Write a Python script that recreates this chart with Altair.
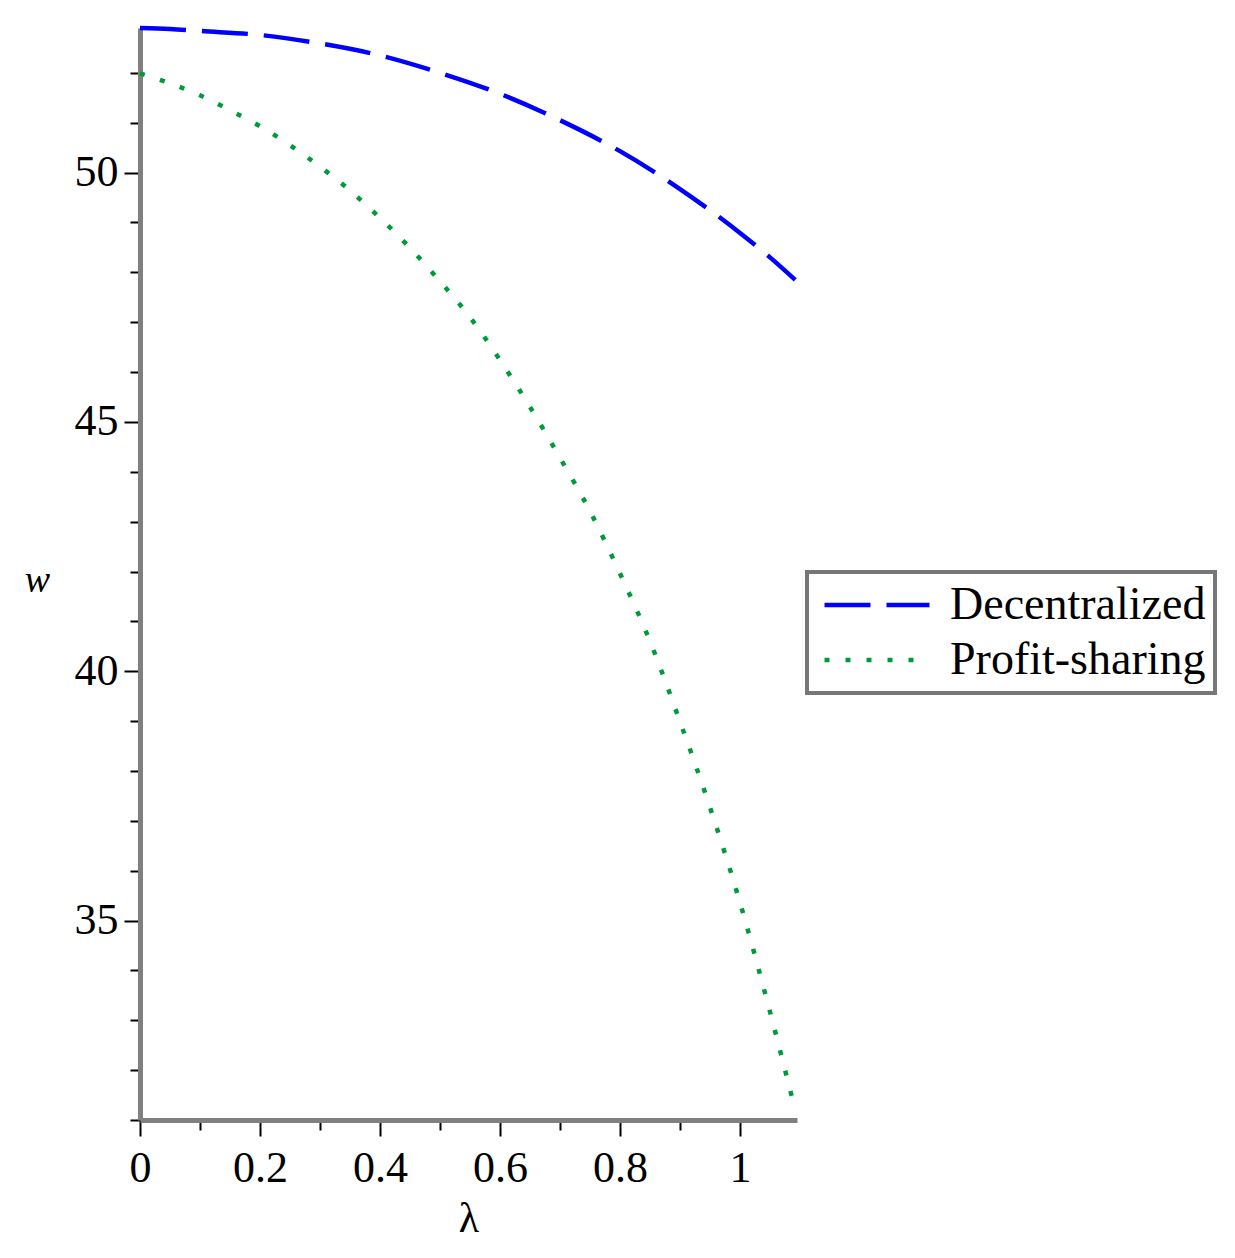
import altair as alt
import pandas as pd

# ---- data ----
series_names = ["Decentralized", "Profit-sharing"]

lam_dec = [0.0, 0.05, 0.1, 0.2, 0.3, 0.4, 0.5, 0.6, 0.7, 0.8, 0.9, 1.0, 1.05, 1.092]
w_dec = [52.90, 52.88, 52.84, 52.76, 52.59, 52.35, 52.00, 51.58, 51.05, 50.43, 49.67, 48.79, 48.30, 47.85]

lam_ps = [0.0, 0.05, 0.1, 0.15, 0.2, 0.25, 0.3, 0.35, 0.4, 0.45, 0.5, 0.55, 0.6,
          0.65, 0.7, 0.75, 0.8, 0.85, 0.9, 0.95, 1.0, 1.05, 1.092]
w_ps = [51.99, 51.79, 51.55, 51.25, 50.93, 50.55, 50.12, 49.64, 49.09, 48.49, 47.82, 47.10, 46.24,
        45.30, 44.28, 43.21, 41.96, 40.60, 38.99, 37.27, 35.36, 33.17, 31.20]

x_ticks = [0.0, 0.1, 0.2, 0.3, 0.4, 0.5, 0.6, 0.7, 0.8, 0.9, 1.0]
y_ticks = [31, 32, 33, 34, 35, 36, 37, 38, 39, 40, 41, 42, 43, 44, 45, 46, 47, 48, 49, 50, 51, 52]

colors = ["#0000ff", "#009a3a"]
dashes = [[46, 16], [5, 16]]

rows = []
for lx, wy in zip(lam_dec, w_dec):
    rows.append({"series": series_names[0], "lam": lx, "w": wy})
for lx, wy in zip(lam_ps, w_ps):
    rows.append({"series": series_names[1], "lam": lx, "w": wy})
df = pd.DataFrame(rows)

FONT = "Liberation Serif"

legend = alt.Legend(
    title=None,
    orient="none",
    legendX=667,
    legendY=544,
    symbolType="stroke",
    symbolSize=11025,
    symbolStrokeWidth=4.5,
    clipHeight=48,
    rowPadding=7,
    padding=9,
    symbolOffset=6,
    labelOffset=18,
    labelFont=FONT,
    labelFontSize=46,
    labelLimit=500,
    labelColor="black",
    strokeColor="#777777",
    fillColor="white",
)

x_major = "round(datum.value*10) % 2 == 0"
y_major = "datum.value % 5 == 0"

chart = alt.Chart(df).mark_line(
    interpolate="monotone", strokeWidth=4.5, strokeCap="butt", clip=False
).encode(
    x=alt.X(
        "lam:Q",
        scale=alt.Scale(domain=[0, 1.095], nice=False, zero=False),
        axis=alt.Axis(
            values=x_ticks,
            format="~g",
            labelExpr=f"{x_major} ? datum.label : ''",
            tickSize=16,
            tickDash={"condition": {"test": x_major, "value": [16, 0]}, "value": [10, 30]},
            tickColor="black",
            tickWidth=2,
            domainColor="#808080",
            domainWidth=5,
            grid=False,
            labelFont=FONT,
            labelFontSize=44,
            labelColor="black",
            labelPadding=10,
            labelFlush=False,
            labelOverlap=False,
            title="λ",
            titleFont=FONT,
            titleFontSize=42,
            titleFontWeight="normal",
            titleColor="black",
            titlePadding=8,
        ),
    ),
    y=alt.Y(
        "w:Q",
        scale=alt.Scale(domain=[31.0, 52.9], nice=False, zero=False),
        axis=alt.Axis(
            values=y_ticks,
            labelExpr=f"{y_major} ? datum.label : ''",
            tickSize=16,
            tickDash={"condition": {"test": y_major, "value": [16, 0]}, "value": [10, 30]},
            tickColor="black",
            tickWidth=2,
            domainColor="#808080",
            domainWidth=5,
            grid=False,
            labelFont=FONT,
            labelFontSize=44,
            labelColor="black",
            labelPadding=6,
            labelFlush=False,
            labelOverlap=False,
            title="w",
            titleFont=FONT,
            titleFontSize=38,
            titleFontStyle="italic",
            titleFontWeight="normal",
            titleColor="black",
            titleAngle=0,
            titleX=-103,
            titleY=552,
            titleAlign="center",
            titleBaseline="middle",
        ),
    ),
    color=alt.Color("series:N", scale=alt.Scale(domain=series_names, range=colors), legend=legend),
    strokeDash=alt.StrokeDash("series:N", scale=alt.Scale(domain=series_names, range=dashes), legend=legend),
).properties(
    width=657,
    height=1092,
    autosize=alt.AutoSizeParams(type="none"),
    padding={"left": 132, "top": 20, "right": 430, "bottom": 120},
    background="white",
).configure_view(stroke=None).configure_legend(strokeWidth=4)

chart.save("out.html", embed_options={"renderer": "svg", "actions": False})
